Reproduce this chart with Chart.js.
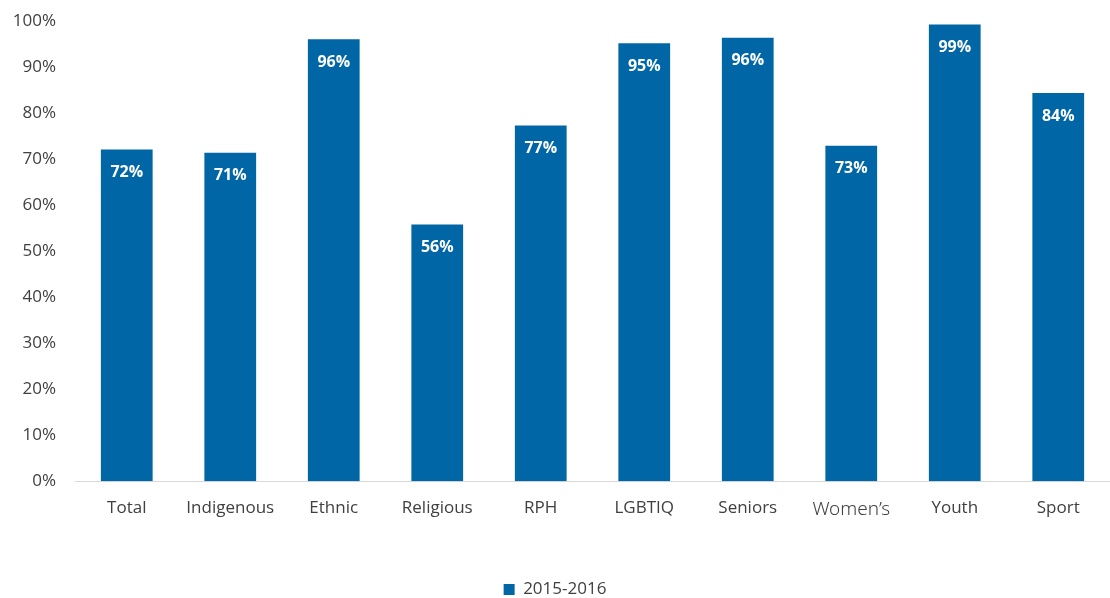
<!DOCTYPE html>
<html lang="en">
<head>
<meta charset="UTF-8" />
<title>2015-2016 chart</title>
<script src="https://cdn.jsdelivr.net/npm/chart.js"></script>
<style>
    body { margin: 0; background: #fff; }
    .chartBox { width: 1110px; height: 598px; }
</style>
</head>
<body>
<div class="chartBox">
    <canvas id="barChart"></canvas>
</div>
<script>
    // data
    const categories = ['Total', 'Indigenous', 'Ethnic', 'Religious', 'RPH', 'LGBTIQ', 'Seniors', 'Women\u2019s', 'Youth', 'Sport'];
    const values = [72.1, 71.4, 96.1, 55.8, 77.3, 95.2, 96.4, 72.9, 99.3, 84.4];
    const seriesName = '2015-2016';
    const yTicks = [0, 10, 20, 30, 40, 50, 60, 70, 80, 90, 100];

    const blue = '#0066a6';
    const textGrey = '#404040';

    // white % labels inside the bars
    const valueLabels = {
        id: 'valueLabels',
        afterDatasetsDraw(chart) {
            const ctx = chart.ctx;
            const meta = chart.getDatasetMeta(0);
            ctx.save();
            ctx.fillStyle = '#ffffff';
            ctx.font = 'bold 16px "Open Sans"';
            ctx.textAlign = 'center';
            ctx.textBaseline = 'middle';
            meta.data.forEach((bar, i) => {
                ctx.fillText(Math.round(values[i]) + '%', bar.x, bar.y + 23);
            });
            ctx.restore();
        }
    };

    new Chart(document.getElementById('barChart'), {
        type: 'bar',
        data: {
            labels: categories,
            datasets: [{
                label: seriesName,
                data: values,
                backgroundColor: blue,
                borderWidth: 0,
                barPercentage: 0.5,
                categoryPercentage: 1
            }]
        },
        options: {
            responsive: true,
            maintainAspectRatio: false,
            animation: false,
            layout: { padding: { top: 0, right: 0, left: 0, bottom: -10 } },
            scales: {
                x: {
                    grid: { display: false },
                    border: { display: true, color: '#d9d9d9', width: 1 },
                    ticks: {
                        color: textGrey,
                        padding: 9,
                        maxRotation: 0,
                        font: (c) => c.index === 7
                            ? { family: '"Noto Sans"', size: 19, weight: 300 }
                            : { family: '"Open Sans"', size: 17 }
                    },
                    afterFit(scale) { scale.height += 49; }
                },
                y: {
                    min: 0,
                    max: 100,
                    grid: { display: false },
                    border: { display: false },
                    afterBuildTicks(scale) { scale.ticks = yTicks.map(v => ({ value: v })); },
                    ticks: {
                        color: textGrey,
                        padding: 11,
                        font: { family: '"Open Sans"', size: 17 },
                        callback: (v) => v + '%'
                    },
                    afterFit(scale) { scale.width = 75; }
                }
            },
            plugins: {
                legend: {
                    position: 'bottom',
                    labels: {
                        color: textGrey,
                        boxWidth: 11,
                        boxHeight: 11,
                        padding: 2,
                        font: { family: '"Open Sans"', size: 17 }
                    }
                },
                tooltip: { enabled: false }
            }
        },
        plugins: [valueLabels]
    });
</script>
</body>
</html>
